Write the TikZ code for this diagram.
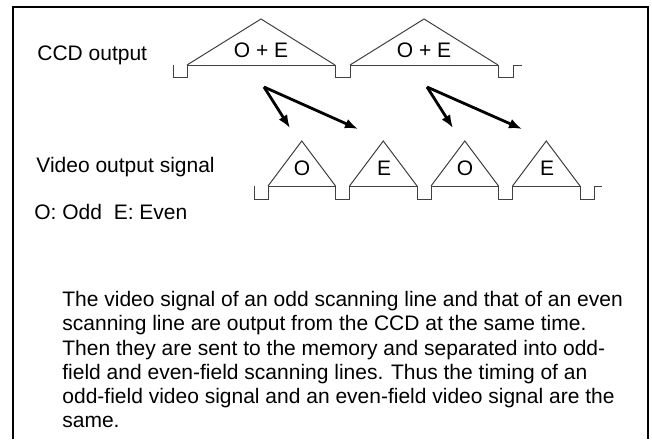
\documentclass[tikz,border=0pt]{standalone}
\usepackage{fontspec}
\setmainfont{Liberation Sans}
\usetikzlibrary{arrows.meta}
\begin{document}
\begin{tikzpicture}[x=0.5pt,y=-0.5pt,>={Latex[length=6.5pt,width=5pt]},
	wave/.style={line width=0.5pt,black!75},
	lbl/.style={font=\fontsize{10.5}{12.1}\selectfont,inner sep=0pt},
	split/.style={->,line width=1.4pt}]
	\useasboundingbox (0,0) rectangle (652,439);
	\draw[line width=1pt] (13,439)--(13,7)--(648,7)--(648,439);
	% CCD output: two O+E lines
	\draw[wave] (173,65)--(173,77)--(187,77)--(187,65);
	\foreach \s in {0,163}{\draw[wave] (187+\s,65)--(261+\s,19)--(335+\s,65);\draw[wave] (187+\s,65)--(335+\s,65)--(335+\s,77)--(350+\s,77)--(350+\s,65);}
	\draw[wave] (513,65)--(522,65);
	\node[lbl] (ccdOE1) at (261,50) {O + E};\node[lbl] (ccdOE2) at (424,50) {O + E};
	% video output: separated O and E
	\draw[wave] (254,186)--(254,199)--(268,199)--(268,186);
	\foreach \s in {0,81.5,163,244.5}{\draw[wave] (268+\s,186)--(301.75+\s,141)--(335.5+\s,186);\draw[wave] (268+\s,186)--(335.5+\s,186)--(335.5+\s,199)--(349.5+\s,199)--(349.5+\s,186);}
	\draw[wave] (594,186)--(602,186);
	\node[lbl] (vidO1) at (302,168) {O};\node[lbl] (vidE1) at (384,168) {E};
	\node[lbl] (vidO2) at (465,168) {O};\node[lbl] (vidE2) at (547,168) {E};
	% splitting arrows
	\coordinate (srcA) at (264,87);\coordinate (oddA) at (290,128);\coordinate (evenA) at (358,129);
	\coordinate (srcB) at (427,87);\coordinate (oddB) at (453,128);\coordinate (evenB) at (522,129);
	\draw[split] (srcA)--(oddA);\draw[split] (srcA)--(evenA);
	\draw[split] (srcB)--(oddB);\draw[split] (srcB)--(evenB);
	\node[lbl,anchor=west] (ccdtxt) at (37,55) {CCD output};
	\node[lbl,anchor=west] (vidtxt) at (36,167) {Video output signal};
	\node[lbl,anchor=west] (keytxt) at (34,212) {O: Odd\ \ E: Even};
	\node[lbl,anchor=north west,align=left] (note) at (62,291) {The video signal of an odd scanning line and that of an even\\scanning line are output from the CCD at the same time.\\Then they are sent to the memory and separated into odd-\\field and even-field scanning lines. Thus the timing of an\\odd-field video signal and an even-field video signal are the\\same.};
\end{tikzpicture}
\end{document}
